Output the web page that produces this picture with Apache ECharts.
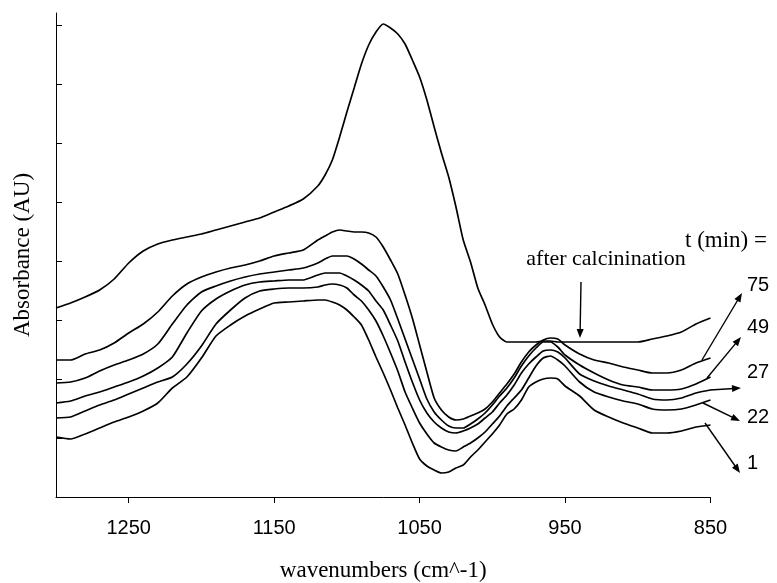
<!DOCTYPE html>
<html><head><meta charset="utf-8">
<script src="https://cdn.jsdelivr.net/npm/echarts@6/dist/echarts.min.js"></script>
<style>html,body{margin:0;padding:0;background:#fff}#chart{width:777px;height:583px}</style>
</head><body><div id="chart"></div>
<script>
// wavenumbers (cm^-1)
const wavenumbers = [1300,1290,1280,1270,1260,1250,1240,1230,1220,1210,1200,1190,1180,1170,1160,1150,1140,1130,1120,
  1115,1110,1105,1100,1095,1090,1085,1080,1075,1070,1065,1060,1055,1050,1045,1040,1035,1030,1025,1020,1015,1010,1005,1000,995,990,985,980,975,970,965,960,955,950,
  940,930,920,910,900,890,880,870,860,850];
// absorbance (arbitrary units)
const afterCalcination = [189,194,200,207,218,234,246,253,257,260,263,267,271,275,279,285,291,298,311,
  322,337,360,385,409,433,452,465,473,469,463,453,437,420,397,370,344,320,290,257,235,209,192,173,160,155,155,155,155,155,156,156,155,155,
  155,155,155,155,155,158,161,165,173,179];
const t75 = [137,137,143,147,154,164,173,185,201,213,220,225,229,232,236,241,244,247,257,
  261,265,267,266,265,265,264,260,250,237,223,202,179,152,125,99,87,80,77,78,81,84,88,95,104,113,123,135,145,152,157,159,158,152,
  143,137,134,130,127,124,124,127,134,139];
const t49 = [114,115,119,126,132,137,143,153,173,192,205,211,216,220,223,225,227,229,234,
  238,241,241,241,238,233,227,221,210,197,178,158,138,118,98,85,77,71,69,69,73,78,84,92,101,109,119,131,141,149,155,155,150,142,
  132,124,117,112,110,107,107,108,113,120];
const t27 = [94,96,101,105,110,115,121,129,140,164,186,198,206,212,215,216,217,217,222,
  224,224,224,221,217,212,206,196,187,172,156,135,115,97,84,75,69,65,64,66,69,73,79,85,94,102,112,124,133,140,146,147,145,139,
  123,116,111,107,103,98,97,99,104,107];
const t22 = [79,80,86,92,97,103,109,115,120,133,151,173,187,199,206,208,209,209,210,
  212,213,212,209,202,196,187,176,161,144,126,105,89,74,63,54,50,47,46,50,54,59,65,73,81,91,99,107,119,131,139,141,137,131,
  115,105,100,96,93,88,87,88,92,97];
const t1 = [60,58,63,69,75,80,86,94,109,120,139,161,172,181,188,194,195,196,197,
  197,195,192,187,180,172,157,140,124,107,89,72,54,38,31,27,24,25,29,32,40,47,55,63,72,83,88,97,110,115,118,119,118,111,
  101,87,80,74,69,64,64,66,70,72];

const seriesNames = ['after calcinination','75','49','27','22','1'];
const seriesValues = [afterCalcination, t75, t49, t27, t22, t1];
const xTickValues = [1250,1150,1050,950,850];
const yTickValues = [59,118,177,236,295,354,413,472];

const serif = '"Liberation Serif","Times New Roman",serif';
const sans = '"Liberation Sans",Arial,sans-serif';

function pairs(vals){ return wavenumbers.map((w,i)=>[w, vals[i]]); }

function arrow(x1,y1,x2,y2){
  const dx=x2-x1, dy=y2-y1, len=Math.hypot(dx,dy);
  const ux=dx/len, uy=dy/len, nx=-uy, ny=ux;
  const L=9, W=7;
  const bx=x2-ux*L, by=y2-uy*L;
  return [
    {type:'line', shape:{x1:x1,y1:y1,x2:bx+ux*2,y2:by+uy*2}, style:{stroke:'#000', lineWidth:1.4}, silent:true},
    {type:'polygon', shape:{points:[[x2,y2],[bx+nx*W/2,by+ny*W/2],[bx-nx*W/2,by-ny*W/2]]}, style:{fill:'#000'}, silent:true}
  ];
}
function label(text,x,y,font,align){
  return {type:'text', x:x, y:y, silent:true,
    style:{text:text, font:font, fill:'#000', align:align||'left', verticalAlign:'middle', textAlign:align||'left', textVerticalAlign:'middle'}};
}

const graphics = [].concat(
  arrow(581,282,580,338),
  arrow(702,360,742,293),
  arrow(707,378,741,337),
  arrow(710,390,741,388),
  arrow(703,403,740,421),
  arrow(705,423,740,473),
  [label('t (min) =',767,241,'23px '+serif,'right'),
   label('after calcinination',606,259,'22px '+serif,'center'),
   label('75',747,285,'20px '+sans,'left'),
   label('49',747,327,'20px '+sans,'left'),
   label('27',747,372,'20px '+sans,'left'),
   label('22',747,417,'20px '+sans,'left'),
   label('1',747,463,'20px '+sans,'left')]
);

const chart = echarts.init(document.getElementById('chart'), null, {renderer:'canvas'});
chart.setOption({
  animation:false,
  backgroundColor:'#fff',
  grid:{left:56, right:66.5, top:13, bottom:86, containLabel:false, outerBoundsMode:'none'},
  xAxis:{
    type:'value', min:850, max:1300, inverse:true,
    axisLine:{show:true, lineStyle:{color:'#000', width:1}},
    axisTick:{show:true, inside:false, length:6, customValues:xTickValues, lineStyle:{color:'#000'}},
    axisLabel:{show:true, customValues:xTickValues, margin:21, color:'#000', fontFamily:sans, fontSize:20,
      formatter:(v)=>String(v)},
    splitLine:{show:false},
    name:'wavenumbers (cm^-1)', nameLocation:'middle', nameGap:62,
    nameTextStyle:{color:'#000', fontFamily:serif, fontSize:23}
  },
  yAxis:{
    type:'value', min:0, max:484,
    axisLine:{show:true, lineStyle:{color:'#000', width:1}},
    axisTick:{show:true, inside:true, length:6, customValues:yTickValues, lineStyle:{color:'#000'}},
    axisLabel:{show:false},
    splitLine:{show:false},
    name:'Absorbance (AU)', nameLocation:'middle', nameGap:22, nameRotate:90,
    nameTextStyle:{color:'#000', fontFamily:serif, fontSize:23}
  },
  series: seriesValues.map((vals,i)=>({
    name:seriesNames[i], type:'line', data:pairs(vals), showSymbol:false, symbol:'none',
    smooth:0.2,
    lineStyle:{color:'#000', width:1.7}, itemStyle:{color:'#000'}, emphasis:{disabled:true}, z:2
  })),
  graphic: graphics
});
</script>
</body></html>
